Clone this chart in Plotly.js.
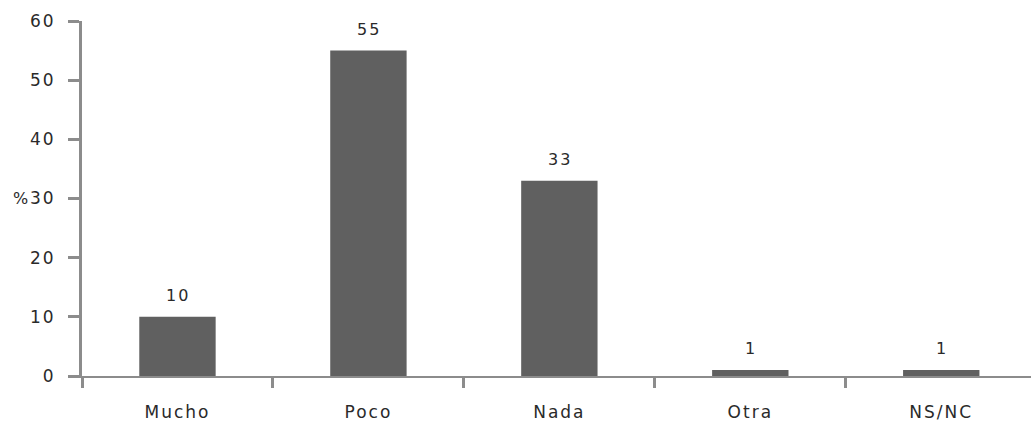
<!DOCTYPE html>
<html><head><meta charset="utf-8">
<script src="https://cdn.plot.ly/plotly-3.0.1.min.js"></script>
<style>
html,body{margin:0;padding:0;background:#fff}
#chart text{letter-spacing:2px}
</style>
</head><body>
<div id="chart" style="width:1031px;height:423px"></div>
<script>
const categories = ["Mucho", "Poco", "Nada", "Otra", "NS/NC"];
const values = [10, 55, 33, 1, 1];
const yTicks = [0, 10, 20, 30, 40, 50, 60];
const FONT = "DejaVu Sans, sans-serif";

const trace = {
  type: "bar",
  x: categories,
  y: values,
  marker: {color: "#606060", line: {width: 0}},
  width: 0.4,
  hoverinfo: "skip"
};

const valueLabels = categories.map((c, i) => ({
  x: c, y: values[i], xref: "x", yref: "y",
  text: String(values[i]), showarrow: false,
  xanchor: "center", yanchor: "bottom", yshift: 10, xshift: 1,
  font: {family: FONT, size: 16, color: "#2a2a2a"}
}));

const layout = {
  width: 1031, height: 423,
  margin: {l: 82, r: 0, t: 21, b: 47},
  paper_bgcolor: "#fff", plot_bgcolor: "#fff",
  showlegend: false,
  xaxis: {
    type: "category",
    range: [-0.5, 4.47],
    showline: true, linecolor: "#8c8c8c", linewidth: 2,
    ticks: "outside", ticklen: 10, tickwidth: 3, tickcolor: "#8c8c8c",
    tickson: "boundaries",
    ticklabelstandoff: 20,
    tickfont: {family: FONT, size: 17, color: "#2a2a2a"},
    showgrid: false, zeroline: false, fixedrange: true
  },
  yaxis: {
    range: [0, 60],
    tickvals: yTicks,
    ticktext: yTicks.map(String),
    showline: true, linecolor: "#8c8c8c", linewidth: 3,
    ticks: "outside", ticklen: 11, tickwidth: 3, tickcolor: "#8c8c8c",
    ticklabelstandoff: 9,
    tickfont: {family: FONT, size: 17, color: "#2a2a2a"},
    showgrid: false, zeroline: false, fixedrange: true
  },
  annotations: valueLabels.concat([{
    text: "%", xref: "paper", yref: "y", x: 0, y: 30,
    xanchor: "right", yanchor: "middle", xshift: -51, showarrow: false,
    font: {family: FONT, size: 16, color: "#2a2a2a"}
  }])
};

Plotly.newPlot("chart", [trace], layout, {displayModeBar: false, staticPlot: true});
</script>
</body></html>
